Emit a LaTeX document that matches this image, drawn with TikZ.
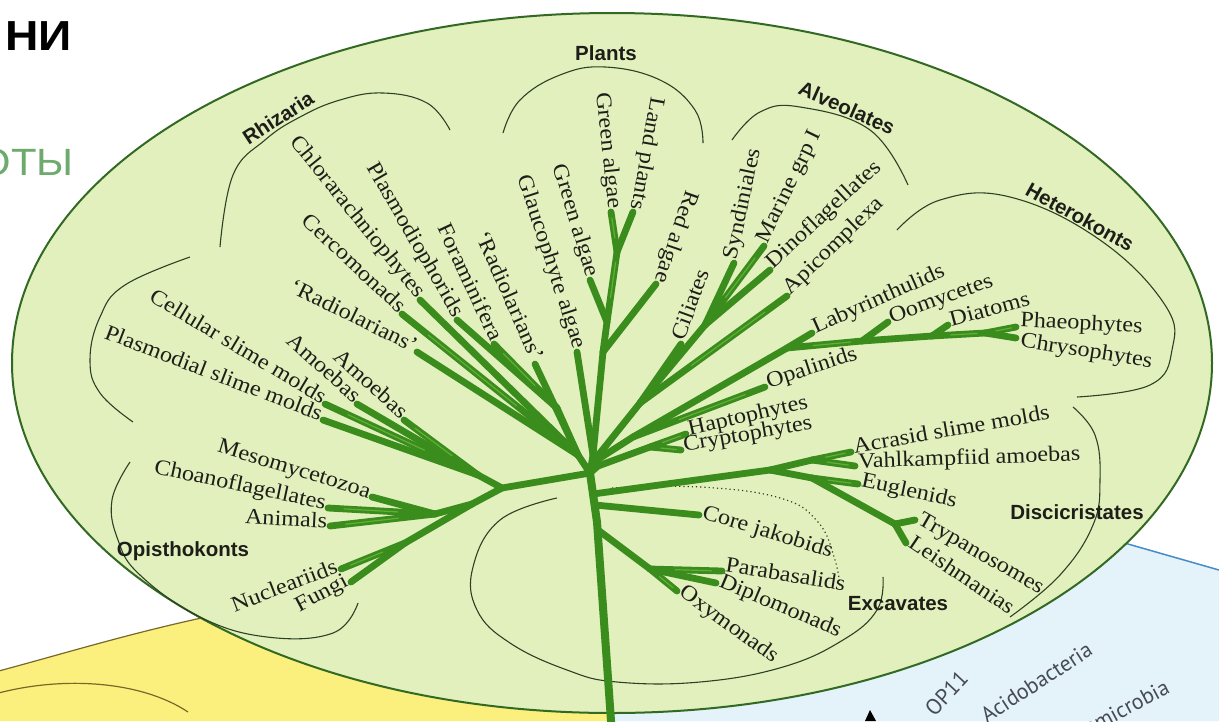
\documentclass[tikz,border=0pt]{standalone}
\usepackage{fontspec}
\setmainfont{Liberation Serif}
\newfontfamily\leaffont[FakeStretch=1.1,Ligatures=TeX]{Liberation Serif}
\newfontfamily\grpfont{Liberation Sans}
\newfontfamily\bacfont{PT Sans}
\newfontfamily\cyrfont{Liberation Sans}
\usetikzlibrary{calc}
\definecolor{ellfill}{RGB}{226,240,190}
\definecolor{elldraw}{RGB}{50,105,35}
\definecolor{branch}{RGB}{58,140,28}
\definecolor{branchhi}{RGB}{125,198,75}
\definecolor{arcc}{RGB}{45,65,35}
\definecolor{yel}{RGB}{251,240,125}
\definecolor{yeldraw}{RGB}{120,105,40}
\definecolor{blu}{RGB}{228,242,250}
\definecolor{bludraw}{RGB}{70,140,200}
\definecolor{txt}{RGB}{30,30,25}
\definecolor{greentxt}{RGB}{110,170,110}
\definecolor{bactxt}{RGB}{70,75,85}
\begin{document}
\begin{tikzpicture}[x=1pt,y=-1pt,
  br/.style={line width=6.8pt, draw=branch, line cap=round},
  brhi/.style={line width=1.2pt, draw=branchhi, line cap=round, opacity=0.6},
  leafl/.style={font=\leaffont\fontsize{22}{22}\selectfont, text=txt, inner xsep=3pt, inner ysep=0pt, anchor=mid east},
  leafr/.style={font=\leaffont\fontsize{22}{22}\selectfont, text=txt, inner xsep=3pt, inner ysep=0pt, anchor=mid west},
  grp/.style={font=\grpfont\bfseries\fontsize{20.5}{20.5}\selectfont, text=txt, inner sep=0pt},
  bracket/.style={line width=1.1pt, draw=arcc},
  bac/.style={font=\bacfont\fontsize{22}{22}\selectfont, text=bactxt, inner sep=0pt, anchor=mid east},
]
\useasboundingbox (0,0) rectangle (1219,721);
\fill[white] (0,0) rectangle (1219,721);
% background regions
\fill[blu] (612,721) -- (612,560) -- (1100,536) -- (1219,570) -- (1219,721) -- cycle;
\draw[bludraw, line width=1.5pt] (1100,536) -- (1219,570);
\fill[yel] (-5,672) .. controls (70,652) and (140,630) .. (230,612) -- (612,560) -- (612,721) -- (-5,721) -- cycle;
\draw[yeldraw, line width=1.2pt] (-5,672) .. controls (70,652) and (140,630) .. (230,612);
\draw[yeldraw, line width=1.2pt] (-5,694) .. controls (60,676) and (140,680) .. (188,712);
\fill[black] (865,721) -- (870,710) -- (876,721) -- cycle;
% title fragments
\node[anchor=south east, inner sep=0pt, xscale=1.1, font=\cyrfont\bfseries\fontsize{42}{42}\selectfont, text=black] (tNI) at (72,51) {НИ};
\node[anchor=south east, inner sep=0pt, xscale=1.1, font=\cyrfont\fontsize{38}{38}\selectfont, text=greentxt] (tOTY) at (74,176) {ОТЫ};
% ellipse
\filldraw[fill=ellfill, draw=elldraw, line width=2pt] (612,363) ellipse [x radius=600, y radius=350];
% group brackets
\draw[bracket] plot[smooth, tension=0.7] coordinates {(220,247) (233,175) (265,140) (300,117) (340,100) (383,93) (427,103) (450,130)};
\draw[bracket] plot[smooth, tension=0.7] coordinates {(503,133) (520,100) (560,75) (605,67) (660,80) (695,110) (703,143)};
\draw[bracket] plot[smooth, tension=0.7] coordinates {(732,140) (760,112) (800,107) (870,130) (908,185)};
\draw[bracket] plot[smooth, tension=0.7] coordinates {(897,230) (940,200) (1010,197) (1100,240) (1165,305) (1172,350) (1150,385) (1077,397)};
\draw[bracket] plot[smooth, tension=0.7] coordinates {(1073,407) (1095,435) (1100,480) (1093,525) (1060,575) (1010,617)};
\draw[bracket] plot[smooth, tension=0.7] coordinates {(190,257) (125,285) (100,317) (90,360) (100,393) (133,422)};
\draw[bracket] plot[smooth, tension=0.7] coordinates {(130,462) (112,500) (118,540) (140,575) (200,617) (267,637) (333,633) (358,603)};
\draw[bracket] plot[smooth, tension=0.7] coordinates {(557,498) (500,520) (473,567) (477,610) (510,643) (567,670) (617,682) (700,682) (783,667) (843,640) (877,610) (883,577)};
\draw[bracket, line width=1.2pt, dash pattern=on 1.2pt off 3pt] plot[smooth, tension=0.7] coordinates {(612,488) (700,487) (780,498) (818,522) (835,560) (840,588)};
% tree coordinates
\coordinate (H) at (590,473);
\coordinate (T1) at (597,522);
\coordinate (Root) at (612,735);
\coordinate (X0) at (598,530);
\coordinate (X1) at (650,569);
\coordinate (tOxy) at (677,591);
\coordinate (tPara) at (722,571);
\coordinate (tDipl) at (716,583);
\coordinate (CJ0) at (595,505);
\coordinate (tCJ) at (699,515);
\coordinate (D0) at (593,494);
\coordinate (D1) at (770,470);
\coordinate (D2) at (812,460);
\coordinate (D3) at (812,478);
\coordinate (tAcr) at (851,452);
\coordinate (tVahl) at (855,466);
\coordinate (tEug) at (858,484);
\coordinate (TL) at (895,524);
\coordinate (tTryp) at (915,520);
\coordinate (tLeish) at (906,543);
\coordinate (HC0) at (598,466);
\coordinate (HC1) at (650,447);
\coordinate (tHap) at (686,434);
\coordinate (tCry) at (681,450);
\coordinate (K0) at (597,460);
\coordinate (K1) at (633,437);
\coordinate (tOpa) at (765,387);
\coordinate (K2) at (787,348);
\coordinate (tLab) at (812,333);
\coordinate (K3) at (862,341);
\coordinate (tOom) at (888,322);
\coordinate (K4) at (932,336);
\coordinate (tDia) at (948,325);
\coordinate (K5) at (985,333);
\coordinate (tPha) at (1016,327);
\coordinate (tChr) at (1016,338);
\coordinate (A0) at (596,458);
\coordinate (A1) at (640,403);
\coordinate (tCil) at (681,344);
\coordinate (tApi) at (787,296);
\coordinate (A2) at (705,325);
\coordinate (tSyn) at (734,263);
\coordinate (tMar) at (764,246);
\coordinate (tDin) at (770,270);
\coordinate (P0) at (593,455);
\coordinate (tGla) at (577,352);
\coordinate (P1) at (603,352);
\coordinate (tRed) at (656,284);
\coordinate (P2) at (607,322);
\coordinate (tGr2) at (590,280);
\coordinate (P3) at (617,252);
\coordinate (tGr1) at (611,212);
\coordinate (tLand) at (633,212);
\coordinate (R0) at (578,455);
\coordinate (tRadR) at (535,364);
\coordinate (RF) at (557,408);
\coordinate (tFora) at (494,344);
\coordinate (tPlasm) at (457,320);
\coordinate (tChlo) at (420,300);
\coordinate (tCerc) at (402,314);
\coordinate (tRadL) at (417,352);
\coordinate (L0) at (502,488);
\coordinate (AM) at (478,475);
\coordinate (tCell) at (325,404);
\coordinate (tPlas) at (323,420);
\coordinate (tAmA) at (357,404);
\coordinate (tAmB) at (404,420);
\coordinate (OP0) at (472,504);
\coordinate (HZ) at (435,514);
\coordinate (tMeso) at (372,497);
\coordinate (tChoa) at (328,508);
\coordinate (tAni) at (330,526);
\coordinate (NF) at (405,543);
\coordinate (tNuc) at (341,569);
\coordinate (tFun) at (351,582);
% branches
\draw[br, line width=8pt] (H) -- (T1);
\draw[br, line width=8pt] (T1) -- (Root);
\foreach \a/\b in {X0/X1, X1/tOxy, X1/tPara, X1/tDipl, CJ0/tCJ,
  D0/D1, D1/D2, D2/tAcr, D2/tVahl, D1/D3, D3/tEug, D3/TL, TL/tTryp, TL/tLeish,
  H/HC0, HC0/HC1, HC1/tHap, HC1/tCry,
  H/K0, K0/K1, K1/tOpa, K1/K2, K2/tLab, K2/K3, K3/tOom, K3/K4, K4/tDia, K4/K5, K5/tPha, K5/tChr,
  H/A0, A0/A1, A1/tCil, A1/tApi, A1/A2, A2/tSyn, A2/tMar, A2/tDin,
  H/P0, P0/tGla, P0/P1, P1/tRed, P1/P2, P2/tGr2, P2/P3, P3/tGr1, P3/tLand,
  H/R0, R0/tRadR, R0/RF, RF/tFora, RF/tPlasm, R0/tChlo, R0/tCerc, R0/tRadL,
  H/L0, L0/AM, AM/tCell, AM/tPlas, AM/tAmA, AM/tAmB, L0/OP0, OP0/HZ, HZ/tMeso, HZ/tChoa, HZ/tAni, OP0/NF, NF/tNuc, NF/tFun}
  {\draw[br] (\a) -- (\b);}
\foreach \a/\b in {X1/tOxy, X1/tPara, D2/tAcr, D2/tVahl, D3/tEug, HC1/tHap, HC1/tCry, K1/tOpa, K2/K3, K4/K5, K5/tPha,
  A1/tApi, A2/tMar, P2/P3, P3/tGr1, RF/tFora, R0/tCerc, AM/tCell, AM/tAmB, HZ/tChoa, HZ/tAni, NF/tNuc}
  {\draw[brhi] ($(\a)!0.35!(\b)$) -- ($(\a)!0.85!(\b)$);}
% leaf labels: Rhizaria
\node[leafl, rotate=-51] (lChlo) at (tChlo) {Chlorarachniophytes};
\node[leafl, rotate=-60] (lPlasm) at (tPlasm) {Plasmodiophorids};
\node[leafl, rotate=-65] (lFora) at (tFora) {Foraminifera};
\node[leafl, rotate=-66] (lRadR) at (tRadR) {‘Radiolarians’};
\node[leafl, rotate=-43] (lCerc) at (tCerc) {Cercomonads};
\node[leafl, rotate=-26] (lRadL) at (tRadL) {‘Radiolarians’};
% Amoebozoa
\node[leafl, rotate=-42] (lAmA) at (tAmA) {Amoebas};
\node[leafl, rotate=-42] (lAmB) at (tAmB) {Amoebas};
\node[leafl, rotate=-31] (lCell) at (tCell) {Cellular slime molds};
\node[leafl, rotate=-21] (lPlas) at (tPlas) {Plasmodial slime molds};
% Opisthokonts
\node[leafl, rotate=-17] (lMeso) at (tMeso) {Mesomycetozoa};
\node[leafl, rotate=-12] (lChoa) at (tChoa) {Choanoflagellates};
\node[leafl, rotate=-3] (lAni) at (tAni) {Animals};
\node[leafl, rotate=21] (lNuc) at (tNuc) {Nucleariids};
\node[leafl, rotate=28] (lFun) at (tFun) {Fungi};
% Plants
\node[leafl, rotate=-72] (lGla) at (tGla) {Glaucophyte algae};
\node[leafl, rotate=-73] (lGr2) at (tGr2) {Green algae};
\node[leafl, rotate=-84] (lGr1) at (tGr1) {Green algae};
\node[leafl, rotate=-100] (lLand) at (tLand) {Land plants};
\node[leafl, rotate=-109] (lRed) at (tRed) {Red algae};
% Alveolates
\node[leafr, rotate=70] (lCil) at (tCil) {Ciliates};
\node[leafr, rotate=78] (lSyn) at (tSyn) {Syndiniales};
\node[leafr, rotate=64] (lMar) at (tMar) {Marine grp I};
\node[leafr, rotate=43] (lDin) at (tDin) {Dinoflagellates};
\node[leafr, rotate=44] (lApi) at (tApi) {Apicomplexa};
% Heterokonts
\node[leafr, rotate=24] (lLab) at (tLab) {Labyrinthulids};
\node[leafr, rotate=20] (lOom) at (tOom) {Oomycetes};
\node[leafr, rotate=15] (lDia) at (tDia) {Diatoms};
\node[leafr, rotate=-3] (lPha) at ($(tPha)+(1,-3)$) {Phaeophytes};
\node[leafr, rotate=-9] (lChr) at ($(tChr)+(1,6)$) {Chrysophytes};
\node[leafr, rotate=18] (lOpa) at (tOpa) {Opalinids};
\node[leafr, rotate=13] (lHap) at (tHap) {Haptophytes};
\node[leafr, rotate=10] (lCry) at (tCry) {Cryptophytes};
% Discicristates
\node[leafr, rotate=10] (lAcr) at (tAcr) {Acrasid slime molds};
\node[leafr, rotate=2] (lVahl) at (tVahl) {Vahlkampfiid amoebas};
\node[leafr, rotate=-12] (lEug) at (tEug) {Euglenids};
\node[leafr, rotate=-30] (lTryp) at (tTryp) {Trypanosomes};
\node[leafr, rotate=-34] (lLeish) at (tLeish) {Leishmanias};
% Excavates
\node[leafr, rotate=-17] (lCJ) at (tCJ) {Core jakobids};
\node[leafr, rotate=-9] (lPara) at ($(tPara)+(0,-2)$) {Parabasalids};
\node[leafr, rotate=-23] (lDipl) at (tDipl) {Diplomonads};
\node[leafr, rotate=-36] (lOxy) at (tOxy) {Oxymonads};
% group labels
\node[grp, rotate=33] (gRhi) at (278,118) {Rhizaria};
\node[grp] (gPla) at (606,53) {Plants};
\node[grp, rotate=-24] (gAlv) at (847,108) {Alveolates};
\node[grp, rotate=-29] (gHet) at (1080,217) {Heterokonts};
\node[grp] (gDis) at (1077,512) {Discicristates};
\node[grp] (gExc) at (898,604) {Excavates};
\node[grp] (gOpi) at (183,551) {Opisthokonts};
% bacteria fragments
\node[bac, rotate=47] (bOP) at (968,678) {OP11};
\node[bac, rotate=33] (bAci) at (1093,652) {Acidobacteria};
\node[bac, rotate=28] (bVer) at (1170,690) {Verrucomicrobia};
\end{tikzpicture}
\end{document}
